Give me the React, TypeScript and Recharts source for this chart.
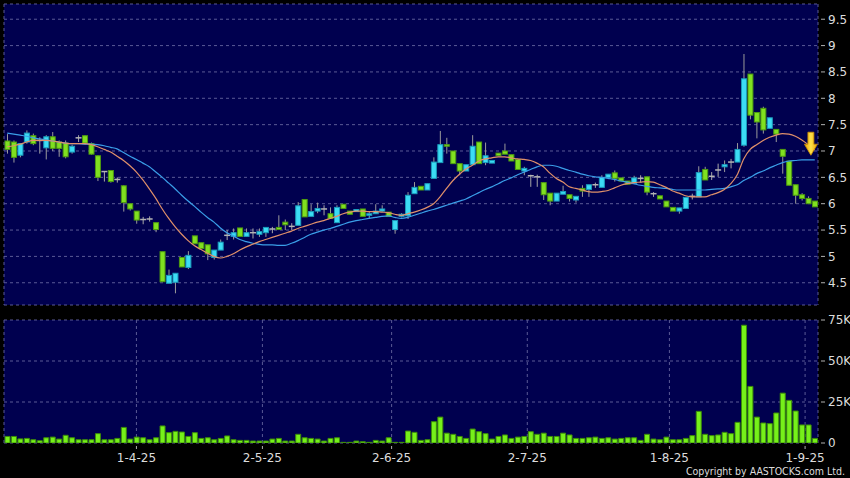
import {
  Bar,
  CartesianGrid,
  ComposedChart,
  Line,
  ReferenceDot,
  XAxis,
  YAxis,
} from 'recharts';

// daily OHLC (index 0 = first session shown)
const open = [
  7.19, 7.17, 6.92, 7.17, 7.29, 7.2, 7.06, 7.27, 7.17, 7.15,
  6.98, 7.25, 7.29, 7.14, 6.91, 6.61, 6.63, 6.46, 6.34, 6.0,
  5.86, 5.7, 5.71, 5.64, 5.09, 4.49, 4.51, 4.98, 4.79, 5.39,
  5.26, 5.22, 4.98, 5.12, 5.4, 5.38, 5.54, 5.38, 5.45, 5.42,
  5.45, 5.52, 5.55, 5.65, 5.57, 5.59, 6.08, 5.76, 5.86, 5.9,
  5.81, 5.64, 5.99, 5.86, 5.85, 5.9, 5.78, 5.81, 5.86, 5.84,
  5.51, 5.76, 5.77, 6.19, 6.33, 6.26, 6.48, 6.78, 7.12, 7.0,
  6.76, 6.62, 6.74, 7.17, 6.78, 6.77, 6.96, 7.0, 6.93, 6.84,
  6.62, 6.53, 6.51, 6.4, 6.2, 6.05, 6.18, 6.17, 6.07, 6.29,
  6.27, 6.36, 6.31, 6.49, 6.585, 6.49, 6.43, 6.38, 6.48, 6.51,
  6.19, 6.15, 6.05, 5.93, 5.86, 5.91, 6.14, 6.13, 6.65, 6.52,
  6.64, 6.7, 6.79, 6.79, 7.11, 8.46, 7.73, 7.81, 7.43, 7.41,
  7.03, 6.81, 6.36, 6.17, 6.1, 6.05,
];
const high = [
  7.32, 7.2, 7.15, 7.39, 7.33, 7.26, 7.3, 7.36, 7.2, 7.2,
  7.12, 7.3, 7.3, 7.16, 6.92, 6.62, 6.64, 6.5, 6.35, 6.0,
  5.86, 5.75, 5.76, 5.64, 5.09, 4.75, 4.68, 4.98, 5.1, 5.39,
  5.26, 5.22, 5.12, 5.32, 5.5, 5.53, 5.54, 5.53, 5.53, 5.53,
  5.55, 5.56, 5.78, 5.7, 5.63, 6.03, 6.08, 5.99, 6.02, 5.97,
  5.93, 5.97, 5.99, 5.86, 5.89, 5.9, 5.84, 5.99, 5.97, 5.84,
  5.68, 5.82, 6.22, 6.41, 6.33, 6.38, 6.88, 7.38, 7.25, 7.0,
  6.76, 6.74, 7.3, 7.17, 7.16, 6.82, 6.96, 7.14, 6.93, 6.84,
  6.7, 6.55, 6.55, 6.41, 6.2, 6.2, 6.34, 6.17, 6.14, 6.35,
  6.36, 6.4, 6.54, 6.56, 6.63, 6.49, 6.43, 6.53, 6.54, 6.51,
  6.22, 6.15, 6.05, 5.93, 5.92, 6.12, 6.19, 6.71, 6.7, 6.6,
  6.76, 6.82, 6.85, 7.15, 8.84, 8.46, 7.73, 7.84, 7.63, 7.41,
  7.03, 6.81, 6.36, 6.2, 6.14, 6.05,
];
const low = [
  6.95, 6.78, 6.88, 7.14, 7.11, 6.95, 6.84, 7.0, 6.89, 6.86,
  6.95, 7.17, 7.12, 6.93, 6.43, 6.42, 6.4, 6.4, 5.85, 5.87,
  5.62, 5.61, 5.66, 5.46, 4.52, 4.49, 4.3, 4.8, 4.76, 5.24,
  5.15, 4.93, 4.94, 5.12, 5.31, 5.32, 5.38, 5.38, 5.34, 5.37,
  5.37, 5.44, 5.5, 5.5, 5.5, 5.59, 5.75, 5.76, 5.82, 5.78,
  5.72, 5.64, 5.91, 5.8, 5.85, 5.76, 5.72, 5.81, 5.85, 5.76,
  5.43, 5.74, 5.71, 6.19, 6.26, 6.26, 6.48, 6.78, 6.95, 6.76,
  6.54, 6.62, 6.74, 6.76, 6.73, 6.77, 6.91, 6.94, 6.81, 6.65,
  6.54, 6.32, 6.32, 6.07, 5.97, 6.05, 6.18, 6.04, 6.02, 6.13,
  6.13, 6.3, 6.31, 6.49, 6.42, 6.43, 6.37, 6.38, 6.4, 6.16,
  6.13, 6.09, 5.94, 5.86, 5.81, 5.91, 6.08, 6.13, 6.45, 6.45,
  6.51, 6.6, 6.67, 6.79, 7.08, 7.6, 7.24, 7.33, 7.43, 7.17,
  6.57, 6.35, 6.0, 6.06, 6.0, 5.94,
];
const close = [
  7.03, 6.88, 7.14, 7.34, 7.14, 7.2, 7.27, 7.05, 7.05, 6.89,
  7.09, 7.25, 7.15, 6.94, 6.5, 6.61, 6.42, 6.46, 6.02, 5.9,
  5.69, 5.7, 5.71, 5.51, 4.52, 4.64, 4.68, 4.8, 5.02, 5.24,
  5.15, 5.05, 5.12, 5.27, 5.4, 5.45, 5.38, 5.45, 5.45, 5.47,
  5.55, 5.52, 5.51, 5.6, 5.57, 5.96, 5.75, 5.85, 5.91, 5.9,
  5.72, 5.93, 5.91, 5.8, 5.89, 5.76, 5.81, 5.86, 5.9, 5.76,
  5.68, 5.8, 6.16, 6.31, 6.26, 6.38, 6.79, 7.12, 7.09, 6.76,
  6.62, 6.74, 7.09, 6.76, 6.91, 6.82, 6.91, 6.94, 6.81, 6.65,
  6.67, 6.53, 6.51, 6.17, 6.05, 6.2, 6.23, 6.1, 6.14, 6.24,
  6.36, 6.36, 6.5, 6.56, 6.48, 6.43, 6.37, 6.49, 6.48, 6.22,
  6.19, 6.09, 5.94, 5.86, 5.92, 6.12, 6.14, 6.59, 6.45, 6.52,
  6.64, 6.74, 6.79, 7.03, 8.37, 7.68, 7.55, 7.4, 7.63, 7.32,
  6.9, 6.35, 6.16, 6.1, 6.0, 5.94,
];

// volume, thousands of shares
const volume = [
  4.0, 4.0, 2.5, 2.8, 2.0, 1.4, 3.2, 3.6, 2.4, 4.7,
  3.2, 2.0, 2.0, 2.0, 5.7, 2.0, 2.0, 2.8, 9.5, 2.4,
  3.6, 3.2, 2.0, 3.2, 10.4, 6.3, 7.1, 6.7, 4.0, 6.3,
  2.8, 3.2, 2.0, 2.8, 4.3, 2.0, 1.6, 1.6, 1.2, 1.2,
  1.2, 2.4, 2.8, 1.2, 1.2, 5.3, 3.2, 2.8, 2.4, 1.2,
  2.8, 3.2, 0.4, 0.4, 1.2, 0.8, 0.4, 1.6, 1.2, 3.2,
  0.4, 0.4, 7.3, 6.5, 1.6, 2.0, 13.0, 15.8, 6.0, 5.3,
  4.0, 2.8, 8.5, 6.9, 5.7, 2.4, 4.0, 4.9, 2.8, 3.6,
  4.0, 6.9, 5.3, 6.0, 4.0, 4.0, 6.0, 4.9, 2.8, 2.8,
  3.2, 3.6, 2.8, 3.2, 2.4, 2.8, 3.2, 3.2, 1.6, 5.3,
  2.4, 2.0, 3.6, 2.0, 2.0, 2.8, 4.5, 19.3, 5.3, 4.5,
  4.9, 6.5, 5.7, 12.6, 71.8, 34.5, 15.8, 12.2, 11.8, 18.3,
  30.4, 26.0, 19.5, 11.0, 11.0, 2.8,
];

// moving averages as drawn (orange = short, blue = long)
const maShort = [
  7.08, 7.1, 7.13, 7.17, 7.2, 7.2, 7.2, 7.19, 7.17, 7.15,
  7.14, 7.14, 7.14, 7.12, 7.08, 7.03, 6.98, 6.9, 6.82, 6.72,
  6.6, 6.45, 6.28, 6.1, 5.9, 5.72, 5.56, 5.42, 5.3, 5.2,
  5.13, 5.06, 5.0, 4.97, 5.0, 5.05, 5.12, 5.18, 5.23, 5.28,
  5.32, 5.36, 5.4, 5.44, 5.48, 5.53, 5.57, 5.61, 5.65, 5.68,
  5.72, 5.76, 5.81, 5.84, 5.86, 5.86, 5.85, 5.85, 5.84, 5.83,
  5.8, 5.78, 5.81, 5.84, 5.88, 5.93, 6.0, 6.13, 6.29, 6.44,
  6.56, 6.66, 6.73, 6.81, 6.85, 6.87, 6.89, 6.89, 6.87, 6.85,
  6.84, 6.82, 6.77, 6.7, 6.58, 6.48, 6.41, 6.32, 6.29, 6.26,
  6.23, 6.22, 6.23, 6.25, 6.3, 6.35, 6.38, 6.4, 6.41, 6.42,
  6.41, 6.36, 6.31, 6.24, 6.2, 6.15, 6.13, 6.13, 6.13, 6.17,
  6.21, 6.27, 6.38, 6.55, 6.85, 7.03, 7.12, 7.2, 7.26, 7.3,
  7.33, 7.32, 7.28, 7.21, 7.12, 7.02,
];
const maLong = [
  7.34, 7.32, 7.3, 7.28, 7.25, 7.23, 7.21, 7.19, 7.17, 7.15,
  7.14, 7.14, 7.13, 7.13, 7.12, 7.1, 7.07, 7.04, 6.97, 6.9,
  6.84, 6.77, 6.7, 6.6, 6.5, 6.39, 6.28, 6.16, 6.05, 5.95,
  5.84, 5.74, 5.65, 5.54, 5.45, 5.39, 5.32, 5.28, 5.25, 5.23,
  5.22, 5.22, 5.21, 5.21, 5.25, 5.3, 5.36, 5.42, 5.46, 5.5,
  5.53, 5.57, 5.61, 5.65, 5.68, 5.7, 5.72, 5.74, 5.76, 5.77,
  5.74, 5.72, 5.74, 5.78, 5.82, 5.86, 5.89, 5.93, 5.97, 6.01,
  6.05, 6.09, 6.15, 6.21, 6.27, 6.32, 6.38, 6.44, 6.49, 6.55,
  6.6, 6.65, 6.7, 6.73, 6.73, 6.71, 6.67, 6.63, 6.6, 6.56,
  6.53, 6.51, 6.5, 6.48, 6.46, 6.43, 6.41, 6.38, 6.35, 6.33,
  6.31, 6.3, 6.29, 6.27, 6.26, 6.26, 6.26, 6.26, 6.26, 6.27,
  6.28, 6.29, 6.32, 6.36, 6.44, 6.5, 6.57, 6.62, 6.68, 6.73,
  6.78, 6.81, 6.82, 6.83, 6.83, 6.83,
];

const dateTicks = [20, 39.5, 59.5, 80.5, 102.5, 123.5];
const dateLabels = ['1-4-25', '2-5-25', '2-6-25', '2-7-25', '1-8-25', '1-9-25'];
const priceTicks = [4.5, 5, 5.5, 6, 6.5, 7, 7.5, 8, 8.5, 9, 9.5];
const volumeTicks = [0, 25, 50, 75];
const arrowMark = {i: 124.4, price: 6.92};

const priceData = open.map((o, i) => ({
  i,
  o,
  h: high[i],
  l: low[i],
  c: close[i],
  maShort: maShort[i],
  maLong: maLong[i],
}));
const volumeData = volume.map((v, i) => ({i, v}));

const BG = '#00004f';
const GRID = '#5a5a96';
const FONT = '"DejaVu Sans", Verdana, sans-serif';

function Candle(props: any) {
  const {x, y, width, height, payload} = props;
  const {o, h, l, c} = payload;
  const span = h - l || 1;
  const yOf = (v: number) => y + ((h - v) / span) * height;
  const cx = x + width / 2;
  const top = yOf(Math.max(o, c));
  const bottom = yOf(Math.min(o, c));
  if (o === c) {
    return (
      <g>
        <line x1={cx} x2={cx} y1={y} y2={y + height} stroke="#a8a8a8" />
        <line x1={x - 0.5} x2={x + width + 0.5} y1={top} y2={top} stroke="#b4b4b4" strokeWidth={1.5} />
      </g>
    );
  }
  const up = c > o;
  return (
    <g>
      <line x1={cx} x2={cx} y1={y} y2={y + height} stroke="#9a9a9a" />
      <rect
        x={x}
        y={top}
        width={width}
        height={Math.max(bottom - top, 1)}
        fill={up ? '#3cdcf4' : '#80e020'}
        stroke={up ? '#1a9cbc' : '#4d9a10'}
        strokeWidth={1}
      />
    </g>
  );
}

function PriceTick({x, y, payload}: any) {
  return (
    <g>
      <line x1={x + 3} x2={x + 7} y1={y} y2={y} stroke="#b0b0b0" />
      <text x={x + 10} y={y} dy="0.36em" fill="#dcdcdc" fontSize={12} fontFamily={FONT}>
        {payload.value}
      </text>
    </g>
  );
}

function VolumeTick({x, y, payload}: any) {
  return (
    <g>
      <line x1={x + 3} x2={x + 7} y1={y} y2={y} stroke="#b0b0b0" />
      <text x={x + 10} y={y} dy="0.36em" fill="#dcdcdc" fontSize={12} fontFamily={FONT}>
        {payload.value === 0 ? '0' : `${payload.value}K`}
      </text>
    </g>
  );
}

function DateTick({x, y, payload}: any) {
  const label = dateLabels[dateTicks.indexOf(payload.value)];
  return (
    <g>
      <line x1={x} x2={x} y1={y + 3} y2={y + 6} stroke="#b0b0b0" />
      <text x={x} y={y + 19} textAnchor="middle" fill="#dcdcdc" fontSize={12} fontFamily={FONT}>
        {label}
      </text>
    </g>
  );
}

function Arrow({cx, cy}: any) {
  return (
    <g>
      <defs>
        <linearGradient id="arrowFill" x1="0" x2="1" y1="0" y2="0">
          <stop offset="0" stopColor="#e8a000" />
          <stop offset="0.5" stopColor="#ffe24a" />
          <stop offset="1" stopColor="#e8a000" />
        </linearGradient>
      </defs>
      <path
        d={`M${cx - 3},${cy - 23} L${cx + 3},${cy - 23} L${cx + 3},${cy - 11} L${cx + 6.5},${cy - 11} L${cx},${cy} L${cx - 6.5},${cy - 11} L${cx - 3},${cy - 11} Z`}
        fill="url(#arrowFill)"
        stroke="#c88a00"
        strokeWidth={0.8}
      />
    </g>
  );
}

export default function App() {
  return (
    <div style={{position: 'relative', width: 850, height: 478, background: '#000', overflow: 'hidden'}}>
      <style>{'body{margin:0;background:#000}'}</style>

      <ComposedChart
        width={850}
        height={310}
        data={priceData}
        margin={{top: 4, right: 0, bottom: 5, left: 4}}
      >
        <CartesianGrid fill={BG} stroke={GRID} strokeDasharray="3 3" />
        <XAxis
          type="number"
          dataKey="i"
          domain={[-0.5, 125.5]}
          allowDataOverflow
          ticks={dateTicks}
          height={0}
          tick={false}
          axisLine={false}
          tickLine={false}
        />
        <YAxis
          orientation="right"
          width={32}
          domain={[4.078, 9.789]}
          allowDataOverflow
          ticks={priceTicks}
          tick={<PriceTick />}
          tickSize={0}
          tickMargin={0}
          axisLine={false}
          tickLine={false}
        />
        <Bar
          dataKey={(d: any) => [d.l, d.h]}
          barSize={5}
          shape={<Candle />}
          isAnimationActive={false}
        />
        <Line
          dataKey="maLong"
          type="monotone"
          stroke="#3a9ee8"
          strokeWidth={1.2}
          dot={false}
          isAnimationActive={false}
        />
        <Line
          dataKey="maShort"
          type="monotone"
          stroke="#e0906a"
          strokeWidth={1.2}
          dot={false}
          isAnimationActive={false}
        />
        <ReferenceDot x={arrowMark.i} y={arrowMark.price} shape={<Arrow />} />
      </ComposedChart>

      <ComposedChart
        width={850}
        height={168}
        data={volumeData}
        margin={{top: 10, right: 0, bottom: 0, left: 4}}
      >
        <CartesianGrid fill={BG} stroke={GRID} strokeDasharray="3 3" />
        <XAxis
          type="number"
          dataKey="i"
          domain={[-0.5, 125.5]}
          allowDataOverflow
          ticks={dateTicks}
          height={35}
          tick={<DateTick />}
          tickSize={0}
          tickMargin={0}
          axisLine={false}
          tickLine={false}
        />
        <YAxis
          orientation="right"
          width={32}
          domain={[0, 75]}
          allowDataOverflow
          ticks={volumeTicks}
          tick={<VolumeTick />}
          tickSize={0}
          tickMargin={0}
          axisLine={false}
          tickLine={false}
        />
        <Bar
          dataKey="v"
          barSize={5}
          fill="#76f01a"
          stroke="#3c8c08"
          strokeWidth={1}
          isAnimationActive={false}
        />
      </ComposedChart>

      <div
        style={{
          position: 'absolute',
          right: 5,
          top: 465,
          color: '#dcdcdc',
          fontSize: 10.5,
          lineHeight: '12px',
          fontFamily: '"DejaVu Sans Condensed", "DejaVu Sans", sans-serif',
          whiteSpace: 'nowrap',
        }}
      >
        Copyright by AASTOCKS.com Ltd.
      </div>
    </div>
  );
}
